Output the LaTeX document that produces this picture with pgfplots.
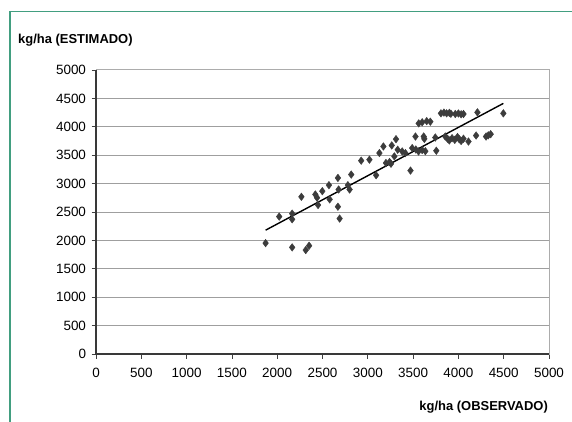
\documentclass[border=0pt]{standalone}
\usepackage{pgfplots}
\pgfplotsset{compat=1.18}
\usepackage{fontspec}
\setmainfont{Liberation Sans}
\definecolor{framegreen}{RGB}{66,158,128}
\definecolor{ptcol}{RGB}{60,60,60}
\begin{document}
\begin{tikzpicture}[x=1bp,y=1bp]
\useasboundingbox (0,0) rectangle (572,421);
\draw[framegreen, line width=1.5bp] (10,-5) -- (10,409.5) -- (580,409.5);
\node[anchor=base west, font=\bfseries\fontsize{13}{15}\selectfont, inner sep=0pt] at (18,378) {kg/ha (ESTIMADO)};
\node[anchor=base east, font=\bfseries\fontsize{13}{15}\selectfont, inner sep=0pt] at (548,11) {kg/ha (OBSERVADO)};
\begin{axis}[
  at={(96bp,67bp)}, anchor=south west,
  width=453bp, height=284bp, scale only axis,
  xmin=0, xmax=5000, ymin=0, ymax=5000,
  xtick={0,500,...,5000}, ytick={0,500,...,5000},
  xtick pos=left, ytick pos=left,
  ymajorgrids, grid style={gray!75, line width=1bp},
  axis line style={draw=gray!65, line width=1bp},
  tick align=outside, major tick length=4.5bp,
  tick style={gray!50!black, line width=0.8bp},
  ticklabel style={font=\fontsize{13.5}{15}\selectfont},
  /pgf/number format/assume math mode=true,
  /pgf/number format/set thousands separator={},
  xticklabel style={yshift=-6bp},
  yticklabel style={xshift=-2bp},
  clip=false,
]
\draw[gray!45!black, line width=1.2bp] (rel axis cs:0,1) -- (rel axis cs:0,0) -- (rel axis cs:1,0);
\addplot[only marks, mark=diamond*, mark size=3.8bp, mark options={fill=ptcol, draw=ptcol}] coordinates {
(1872,1952) (2022,2419) (2165,2471) (2165,2372) (2165,1877) (2315,1830) (2352,1906)
(2267,2768) (2421,2809) (2440,2751) (2451,2623) (2498,2867) (2579,2722) (2571,2972)
(2670,3100) (2678,2896) (2670,2593) (2689,2384) (2817,3159) (2799,2896) (2780,2972)
(2927,3404) (3018,3421) (3092,3147) (3128,3538) (3172,3654) (3264,3672) (3311,3782)
(3200,3363) (3240,3380) (3256,3350) (3293,3479) (3330,3596) (3380,3566) (3415,3537)
(3471,3229) (3490,3625) (3530,3600) (3560,3566) (3600,3590) (3635,3570)
(3526,3829) (3617,3829) (3624,3788) (3562,4060) (3600,4080) (3650,4100) (3690,4090)
(3745,3811) (3756,3578)
(3807,4237) (3840,4250) (3870,4237) (3900,4245) (3917,4230) (3965,4225) (4000,4235)
(4030,4220) (4056,4225) (4210,4254) (4496,4237)
(3855,3829) (3880,3790) (3900,3760) (3930,3800) (3960,3770) (3990,3820) (4010,3780)
(4030,3750) (4056,3790) (4111,3741) (4195,3846) (4305,3829) (4330,3850) (4356,3870)
};
\addplot[black, line width=1.4bp] coordinates {(1872,2180) (4496,4412)};
\end{axis}
\end{tikzpicture}
\end{document}
